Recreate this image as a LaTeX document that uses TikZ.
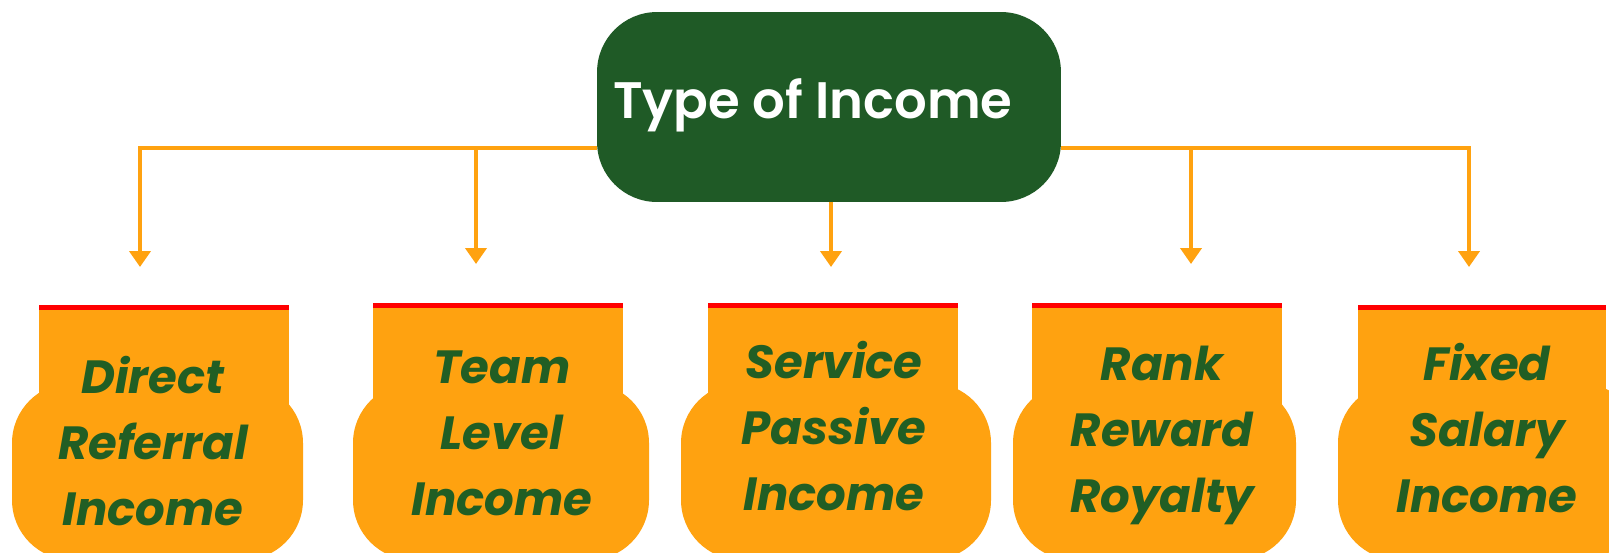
\documentclass[tikz,border=0pt]{standalone}
\usepackage{fontspec}
\setmainfont{Poppins}
\newfontfamily\headfont{Poppins SemiBold}
\usetikzlibrary{arrows.meta}
\definecolor{incgreen}{RGB}{31,90,38}
\definecolor{incorange}{RGB}{255,162,16}
\definecolor{txtgreen}{RGB}{33,94,36}

\begin{document}
\begin{tikzpicture}[line cap=butt,line join=miter,x=0.02cm,y=-0.02cm,
    >={Triangle[width=0.42cm,length=0.32cm]},
    feed/.style={->,draw=incorange,line width=0.08cm},
    base/.style={fill=incorange,rounded corners=1.2cm},
    neck/.style={fill=incorange},
    redtop/.style={fill=red},
    lbl/.style={anchor=base,align=center,text=txtgreen,inner sep=0pt,
        font=\bfseries\itshape\fontsize{26.5}{37.5}\selectfont}]
\useasboundingbox (0,0) rectangle (1609,552);
%tips
    \coordinate (bus) at (0,148);
    \coordinate (t1) at (140,267);
    \coordinate (t2) at (476,264);
    \coordinate (t3) at (831,267);
    \coordinate (t4) at (1191,264);
    \coordinate (t5) at (1469,267);
%%%%%%%% title
\node[fill=incgreen, rounded corners=1.2cm, minimum width=9.28cm, minimum height=3.8cm] at (829,107) (title) {};
\node[anchor=base west, inner sep=0pt, text=white, font=\headfont\fontsize{29.2}{36}\selectfont] at (613,118) (titlelbl) {Type of Income};
%%%lines
\draw [feed] (title.west |- bus) -| (t1);%left bus
\draw [feed] (title.east |- bus) -| (t5);%right bus
\draw [feed] (t2 |- bus) -- (t2);
\draw [feed] (t4 |- bus) -- (t4);
\draw [feed] (title.south -| t3) -- (t3);%middle
%%%%col1
\fill[base] (12,383) rectangle (303,560);
\fill[neck] (39,305) rectangle (289,420);
\fill[redtop] (39,305) rectangle (289,310);
\node[lbl] at (153,525) (dri) {Direct\\Referral\\Income};
%%%%col2
\fill[base] (353,383) rectangle (649,560);
\fill[neck] (373,303) rectangle (623,420);
\fill[redtop] (373,303) rectangle (623,308);
\node[lbl] at (502,515) (tli) {Team\\Level\\Income};
%%%%col3
\fill[base] (681,383) rectangle (991,560);
\fill[neck] (708,303) rectangle (958,420);
\fill[redtop] (708,303) rectangle (958,308);
\node[lbl] at (834,510) (spi) {Service\\Passive\\Income};
%%%%col4
\fill[base] (1013,383) rectangle (1296,560);
\fill[neck] (1032,303) rectangle (1282,420);
\fill[redtop] (1032,303) rectangle (1282,308);
\node[lbl] at (1162,512) (rrr) {Rank\\Reward\\Royalty};
%%%%col5
\fill[base] (1338,383) rectangle (1640,560);
\fill[neck] (1358,305) rectangle (1606,420);
\fill[redtop] (1358,305) rectangle (1606,310);
\node[lbl] at (1487,512) (fsi) {Fixed\\Salary\\Income};
\end{tikzpicture}
\end{document}
